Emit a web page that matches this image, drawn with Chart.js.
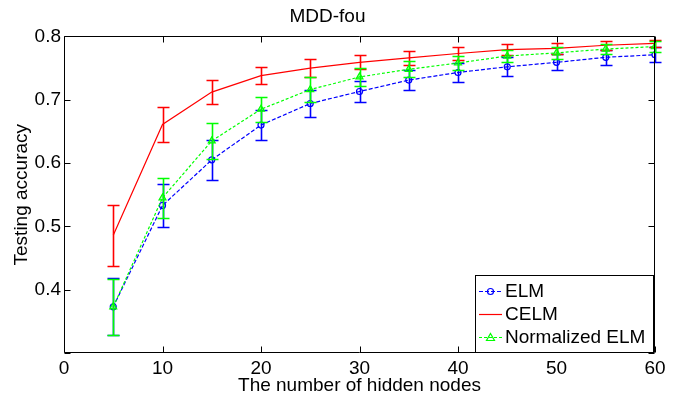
<!DOCTYPE html>
<html>
<head>
<meta charset="utf-8">
<script src="https://cdn.jsdelivr.net/npm/chart.js@4.4.1/dist/chart.umd.min.js"></script>
<style>
html,body{margin:0;padding:0;background:#fff;}
#wrap{width:685px;height:395px;}
</style>
</head>
<body>
<div id="wrap"><canvas id="c" width="685" height="395"></canvas></div>
<script>
const hiddenNodes = [5,10,15,20,25,30,35,40,45,50,55,60];
const elmAcc  = [0.373,0.533,0.605,0.660,0.694,0.713,0.731,0.743,0.752,0.759,0.767,0.771];
const elmErr  = [0.045,0.0345,0.0315,0.0235,0.0215,0.017,0.016,0.0155,0.015,0.0125,0.0115,0.0115];
const celmAcc = [0.486,0.661,0.712,0.738,0.750,0.759,0.766,0.773,0.779,0.781,0.786,0.789];
const celmErr = [0.048,0.027,0.0195,0.013,0.014,0.011,0.0105,0.0105,0.009,0.0085,0.0075,0.006];
const normAcc = [0.373,0.545,0.635,0.685,0.716,0.736,0.748,0.758,0.769,0.774,0.780,0.784];
const normErr = [0.044,0.032,0.028,0.0195,0.020,0.014,0.0125,0.0115,0.0095,0.0095,0.0085,0.009];
const seriesNames = ['ELM','CELM','Normalized ELM'];
const titleText = 'MDD-fou';
const xTitle = 'The number of hidden nodes';
const yTitle = 'Testing accuracy';

const FONT = 'Liberation Sans, Arial, Helvetica, sans-serif';
const BLUE = '#0000ff', RED = '#ff0000', GREEN = '#00ff00';

function pts(ys){ return hiddenNodes.map((x,i)=>({x:x,y:ys[i]})); }

const errorBars = {
  id:'errorBars',
  afterDatasetDraw(chart, args){
    const ds = chart.data.datasets[args.index];
    if(!ds.errors) return;
    const xs = chart.scales.x, ys = chart.scales.y, ctx = chart.ctx;
    ctx.save();
    ctx.globalAlpha = 1;
    ctx.strokeStyle = ds.errColor;
    ctx.lineWidth = 1.6;
    ctx.setLineDash([]);
    ctx.beginPath();
    ds.data.forEach((p,i)=>{
      const e = ds.errors[i];
      const px = Math.round(xs.getPixelForValue(p.x))+0.5;
      const top = Math.round(ys.getPixelForValue(p.y+e))+0.5, bot = Math.round(ys.getPixelForValue(p.y-e))+0.5;
      ctx.moveTo(px,top); ctx.lineTo(px,bot);
      ctx.moveTo(px-6,top); ctx.lineTo(px+6,top);
      ctx.moveTo(px-6,bot); ctx.lineTo(px+6,bot);
    });
    ctx.stroke();
    ctx.restore();
  }
};

const frame = {
  id:'frame',
  afterDraw(chart){
    const ctx = chart.ctx, a = chart.chartArea;
    const xs = chart.scales.x, ys = chart.scales.y;
    ctx.save();
    ctx.strokeStyle = '#000'; ctx.lineWidth = 1; ctx.setLineDash([]);
    const L = Math.round(a.left)+0.5, R = Math.round(a.right)-0.5, T = Math.round(a.top)+0.5, B = Math.round(a.bottom)-0.5;
    ctx.beginPath();
    ctx.rect(L, T, R-L, B-T);
    xs.ticks.forEach(t=>{
      const px = Math.round(xs.getPixelForValue(t.value))+0.5;
      ctx.moveTo(px,B); ctx.lineTo(px,B-6);
      ctx.moveTo(px,T); ctx.lineTo(px,T+6);
    });
    ys.ticks.forEach(t=>{
      const py = Math.round(ys.getPixelForValue(t.value))+0.5;
      ctx.moveTo(L,py); ctx.lineTo(L+6,py);
      ctx.moveTo(R,py); ctx.lineTo(R-6,py);
    });
    ctx.stroke();

    // legend
    const bx = 475.5, by = 275.5, bw = 178, bh = 77;
    ctx.fillStyle = '#fff';
    ctx.fillRect(bx,by,bw,bh);
    ctx.strokeRect(bx,by,bw,bh);
    const rows = [291,314,337];
    chart.data.datasets.forEach((ds,i)=>{
      const y = rows[i]+0.5;
      ctx.save();
      ctx.strokeStyle = ds.errColor;
      ctx.setLineDash(ds.borderDash || []);
      ctx.lineWidth = 1.2;
      ctx.beginPath(); ctx.moveTo(479,y); ctx.lineTo(502,y); ctx.stroke();
      ctx.setLineDash([]);
      if(ds.pointStyle === 'circle'){
        ctx.beginPath(); ctx.arc(490.5,y,3,0,Math.PI*2); ctx.stroke();
      } else if(ds.pointStyle === 'triangle'){
        ctx.beginPath(); ctx.moveTo(490.5,y-4); ctx.lineTo(494.5,y+3); ctx.lineTo(486.5,y+3); ctx.closePath(); ctx.stroke();
      }
      ctx.restore();
      ctx.fillStyle = '#000';
      ctx.font = '19px ' + FONT;
      ctx.textBaseline = 'middle';
      ctx.textAlign = 'left';
      ctx.fillText(ds.label, 505, y);
    });
    ctx.restore();
  }
};

new Chart(document.getElementById('c'), {
  type:'line',
  data:{
    datasets:[
      {label:seriesNames[0], data:pts(elmAcc), errors:elmErr, errColor:BLUE, borderColor:BLUE, backgroundColor:'transparent',
       borderWidth:1.2, borderDash:[4,2], pointStyle:'circle', pointRadius:3, pointBorderColor:BLUE,
       pointBackgroundColor:'transparent', pointBorderWidth:1.2, order:3},
      {label:seriesNames[1], data:pts(celmAcc), errors:celmErr, errColor:RED, borderColor:RED, backgroundColor:'transparent',
       borderWidth:1.2, pointRadius:0, pointStyle:false, order:2},
      {label:seriesNames[2], data:pts(normAcc), errors:normErr, errColor:GREEN, borderColor:GREEN, backgroundColor:'transparent',
       borderWidth:1.2, borderDash:[3,2], pointStyle:'triangle', pointRadius:4, pointBorderColor:GREEN,
       pointBackgroundColor:'rgba(0,255,0,0.25)', pointBorderWidth:1.2, order:1}
    ]
  },
  options:{
    responsive:false, animation:false,
    layout:{padding:{left:0,right:30,top:0,bottom:0}},
    elements:{line:{tension:0}},
    plugins:{
      legend:{display:false}, tooltip:{enabled:false},
      title:{display:true, text:titleText, color:'#000', font:{family:FONT,size:19,weight:'normal'},
             padding:{top:5,bottom:8.6}}
    },
    scales:{
      x:{type:'linear', min:0, max:60,
         ticks:{stepSize:10, color:'#000', font:{family:FONT,size:19}, padding:4, maxRotation:0},
         grid:{display:false, drawTicks:false}, border:{display:false},
         title:{display:true, text:xTitle, color:'#000', font:{family:FONT,size:19}, padding:{top:0,bottom:-2}},
         afterFit(s){ s.height = 42; }},
      y:{type:'linear', min:0.3, max:0.8,
         ticks:{stepSize:0.1, color:'#000', font:{family:FONT,size:19}, padding:3,
                callback:(v)=> v < 0.35 ? '' : v.toFixed(1)},
         grid:{display:false, drawTicks:false}, border:{display:false},
         title:{display:true, text:yTitle, color:'#000', font:{family:FONT,size:19}, padding:{top:10,bottom:0}},
         afterFit(s){ s.width = 64; }}
    }
  },
  plugins:[errorBars, frame]
});
</script>
</body>
</html>
